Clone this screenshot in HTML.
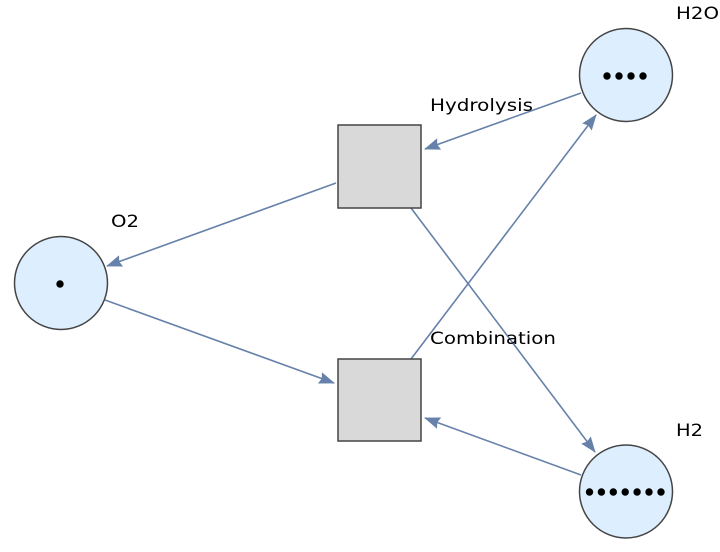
<!DOCTYPE html>
<html><head><meta charset="utf-8"><style>
html,body{margin:0;padding:0;background:#fff;}
svg{display:block;}
text{font-family:"DejaVu Sans","Liberation Sans",sans-serif;font-size:17px;fill:#000;}
</style></head><body>
<svg width="720" height="552" viewBox="0 0 720 552" xmlns="http://www.w3.org/2000/svg">
<defs>
<marker id="a" markerWidth="16" markerHeight="12" refX="15" refY="6" orient="auto" markerUnits="userSpaceOnUse">
<path d="M0,0 L16,6 L0,12 L2,6 Z" fill="#6681aa"/>
</marker>
</defs>
<g stroke="#6681aa" stroke-width="1.6" fill="none" marker-end="url(#a)">
<line x1="581" y1="93" x2="425" y2="149"/>
<line x1="336" y1="183" x2="107" y2="266"/>
<line x1="411" y1="208" x2="595" y2="452"/>
<line x1="105" y1="300" x2="334" y2="383"/>
<line x1="411" y1="359" x2="596" y2="115"/>
<line x1="581" y1="475" x2="425" y2="418"/>
</g>
<rect x="338" y="125" width="83" height="83" fill="#d9d9d9" stroke="#444" stroke-width="1.5"/>
<rect x="338" y="359" width="83" height="82" fill="#d9d9d9" stroke="#444" stroke-width="1.5"/>
<g fill="#ddeeff" stroke="#444" stroke-width="1.5">
<circle cx="61" cy="283" r="46.5"/>
<circle cx="626" cy="75" r="46.5"/>
<circle cx="626" cy="491.5" r="46.5"/>
</g>
<g fill="#000">
<circle cx="60" cy="284" r="3.7"/>
<circle cx="607" cy="76" r="3.7"/><circle cx="619" cy="76" r="3.7"/><circle cx="631" cy="76" r="3.7"/><circle cx="643" cy="76" r="3.7"/>
<circle cx="589.5" cy="492" r="3.7"/><circle cx="601.4" cy="492" r="3.7"/><circle cx="613.3" cy="492" r="3.7"/><circle cx="625.2" cy="492" r="3.7"/><circle cx="637.1" cy="492" r="3.7"/><circle cx="649" cy="492" r="3.7"/><circle cx="661" cy="492" r="3.7"/>
</g>
<text x="430" y="111" textLength="103" lengthAdjust="spacingAndGlyphs">Hydrolysis</text>
<text x="430" y="344" textLength="126" lengthAdjust="spacingAndGlyphs">Combination</text>
<text x="111" y="227" textLength="28" lengthAdjust="spacingAndGlyphs">O2</text>
<text x="676" y="19" textLength="43" lengthAdjust="spacingAndGlyphs">H2O</text>
<text x="676" y="436" textLength="27" lengthAdjust="spacingAndGlyphs">H2</text>
</svg>
</body></html>
